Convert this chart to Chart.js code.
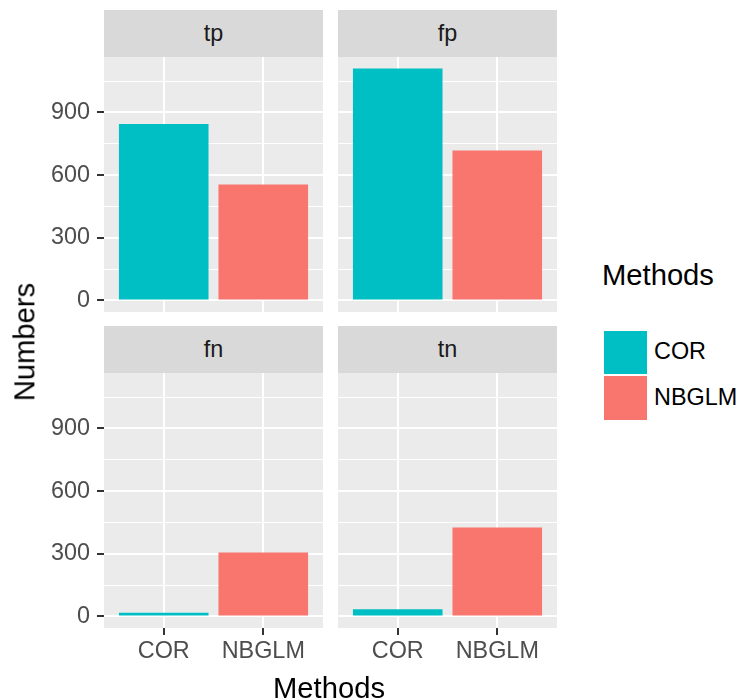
<!DOCTYPE html>
<html>
<head>
<meta charset="utf-8">
<script src="https://cdn.jsdelivr.net/npm/chart.js@4/dist/chart.umd.min.js"></script>
<style>
  body { margin: 0; background: #fff; font-family: "Liberation Sans", Arial, sans-serif; }
  #root { position: relative; width: 741px; height: 699px; overflow: hidden; }
  .strip { position: absolute; background: #D9D9D9; color: #1A1A1A; font-size: 23.4px;
           display: flex; align-items: center; justify-content: center; }
  canvas { position: absolute; }
  .txt { position: absolute; line-height: 1; white-space: nowrap; color: #000; }
</style>
</head>
<body>
<div id="root"></div>
<script>
// categories and series
const methods = ['COR', 'NBGLM'];
const methodColors = ['#00BFC4', '#F8766D'];
const panelNames = ['tp', 'fp', 'fn', 'tn'];
const tpValues = [845, 555];
const fpValues = [1110, 718];
const fnValues = [18, 306];
const tnValues = [34, 426];
const panelValues = [tpValues, fpValues, fnValues, tnValues];

// y ticks: labelled majors and unlabelled minors
const majorTicks = [0, 300, 600, 900];
const minorTicks = [150, 450, 750, 1050];

// layout (px)
const panelLeft = [104, 338];
const panelTop = [57, 373];
const panelW = 219, panelH = 255;
const pad = 30, yAxisW = 104, xAxisH = 50;
const stripH = 47;

const root = document.getElementById('root');

// shared y range like ggplot (5% expansion)
const allValues = panelValues.flat();
const dataMax = Math.max(...allValues);
const yMin = -0.05 * dataMax;
const yMax = dataMax * 1.05;
const yTicks = majorTicks.concat(minorTicks).sort((a, b) => a - b);

const tickFont = { family: '"Liberation Sans", Arial, sans-serif', size: 23.4 };

// grey panel background
const panelBg = {
    id: 'panelBg',
    beforeDraw(chart) {
        const { ctx, chartArea: a } = chart;
        ctx.save();
        ctx.fillStyle = '#EBEBEB';
        ctx.fillRect(a.left, a.top, a.width, a.height);
        ctx.restore();
    }
};

panelNames.forEach((name, i) => {
    const col = i % 2;
    const row = Math.floor(i / 2);
    const showY = col === 0;
    const showX = row === 1;

    // facet strip
    const strip = document.createElement('div');
    strip.className = 'strip';
    strip.style.left = panelLeft[col] + 'px';
    strip.style.top = (panelTop[row] - stripH) + 'px';
    strip.style.width = panelW + 'px';
    strip.style.height = stripH + 'px';
    strip.textContent = name;
    root.appendChild(strip);

    const canvas = document.createElement('canvas');
    const cw = showY ? yAxisW + panelW : panelW;
    const ch = pad + panelH + (showX ? xAxisH : pad);
    canvas.width = cw;
    canvas.height = ch;
    canvas.style.left = (showY ? panelLeft[col] - yAxisW : panelLeft[col]) + 'px';
    canvas.style.top = (panelTop[row] - pad) + 'px';
    root.appendChild(canvas);

    const vals = panelValues[i];

    new Chart(canvas, {
        type: 'bar',
        data: {
            datasets: [{
                data: vals.map((v, j) => ({ x: j + 1, y: v })),
                backgroundColor: methodColors,
                borderWidth: 0,
                barPercentage: 0.9,
                categoryPercentage: 1
            }]
        },
        options: {
            responsive: false,
            animation: false,
            events: [],
            layout: { padding: { top: pad, bottom: showX ? 0 : pad, left: 0, right: 0 } },
            plugins: { legend: { display: false }, tooltip: { enabled: false } },
            scales: {
                x: {
                    type: 'linear',
                    min: 0.4,
                    max: 2.6,
                    offset: false,
                    border: { display: false },
                    afterBuildTicks: s => { s.ticks = methods.map((m, j) => ({ value: j + 1 })); },
                    afterFit: s => { s.height = showX ? xAxisH : 0; },
                    grid: {
                        offset: false,
                        color: '#FFFFFF',
                        lineWidth: 2,
                        drawTicks: showX,
                        tickLength: 7,
                        tickWidth: 2,
                        tickColor: '#333333'
                    },
                    ticks: {
                        display: showX,
                        padding: 3,
                        color: '#4D4D4D',
                        font: tickFont,
                        maxRotation: 0,
                        autoSkip: false,
                        callback: v => methods[v - 1]
                    }
                },
                y: {
                    min: yMin,
                    max: yMax,
                    border: { display: false },
                    afterBuildTicks: s => { s.ticks = yTicks.map(v => ({ value: v })); },
                    afterFit: s => { s.width = showY ? yAxisW : 0; },
                    grid: {
                        color: '#FFFFFF',
                        lineWidth: c => majorTicks.includes(c.tick.value) ? 2 : 1,
                        drawTicks: showY,
                        tickLength: 7,
                        tickWidth: 2,
                        tickColor: c => majorTicks.includes(c.tick.value) ? '#333333' : 'rgba(0,0,0,0)'
                    },
                    ticks: {
                        display: showY,
                        padding: 7,
                        color: '#4D4D4D',
                        font: tickFont,
                        callback: v => majorTicks.includes(v) ? String(v) : ''
                    }
                }
            }
        },
        plugins: [panelBg]
    });
});

// axis titles
function addText(text, size, left, top, extra) {
    const d = document.createElement('div');
    d.className = 'txt';
    d.style.fontSize = size + 'px';
    d.style.left = left + 'px';
    d.style.top = top + 'px';
    d.textContent = text;
    if (extra) Object.assign(d.style, extra);
    root.appendChild(d);
    return d;
}

const titleSize = 29.2;
addText('Methods', titleSize, 329, 674, { transform: 'translateX(-50%)' });
addText('Numbers', titleSize, 24.5, 342, { transform: 'translate(-50%, -50%) rotate(-90deg)' });

// legend
addText('Methods', titleSize, 602, 261);
const keyTop = [330.5, 376];
methods.forEach((m, j) => {
    const key = document.createElement('div');
    key.style.position = 'absolute';
    key.style.left = '604px';
    key.style.top = keyTop[j] + 'px';
    key.style.width = '43px';
    key.style.height = '43.5px';
    key.style.background = methodColors[j];
    root.appendChild(key);
    addText(m, 23.4, 654, keyTop[j] + 21.7 - 11.7 - 0.2, { transform: 'translateY(0)' });
});
</script>
</body>
</html>
